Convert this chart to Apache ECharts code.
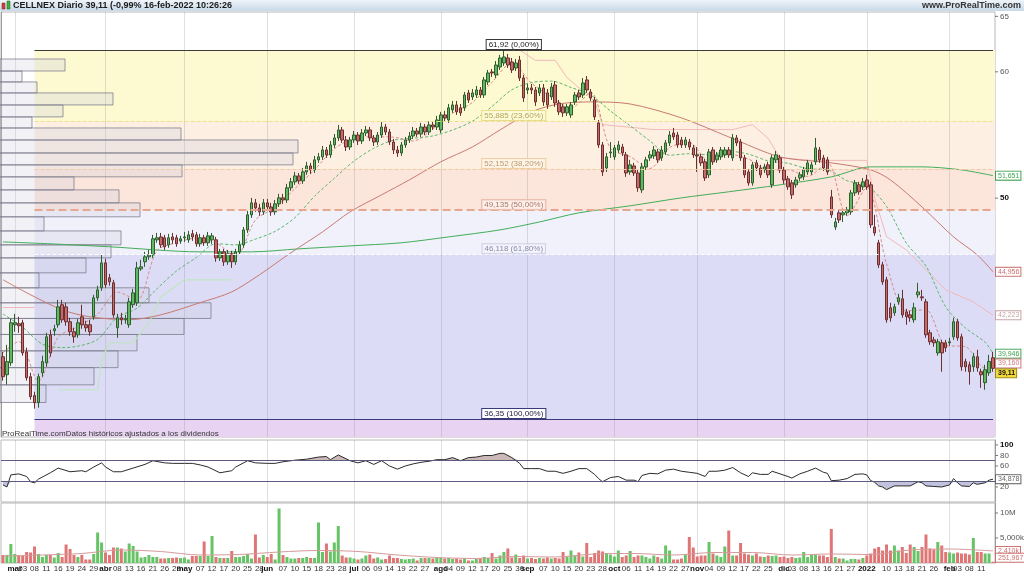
<!DOCTYPE html>
<html><head><meta charset="utf-8">
<script src="https://cdn.jsdelivr.net/npm/echarts@6/dist/echarts.min.js"></script>
<style>html,body{margin:0;padding:0;background:#fff;}#chart{width:1024px;height:576px;}</style>
</head><body><div id="chart"></div>
<script>
// ------------------------- DATA -------------------------
const firstDay = '2021-02-24';
const lastDay = '2022-02-16';
const marketHolidays = ['2021-04-02','2021-04-05','2021-12-24','2021-12-31'];
const monthNames = ['ene','feb','mar','abr','may','jun','jul','ago','sep','oct','nov','dic'];
const tickDates = ['2021-03-01','2021-03-03','2021-03-08','2021-03-11','2021-03-16','2021-03-19','2021-03-24','2021-03-29',
 '2021-04-01','2021-04-08','2021-04-13','2021-04-16','2021-04-21','2021-04-26','2021-04-29',
 '2021-05-03','2021-05-07','2021-05-12','2021-05-17','2021-05-20','2021-05-25','2021-05-28',
 '2021-06-01','2021-06-07','2021-06-10','2021-06-15','2021-06-18','2021-06-23','2021-06-28',
 '2021-07-01','2021-07-06','2021-07-09','2021-07-14','2021-07-19','2021-07-22','2021-07-27',
 '2021-08-02','2021-08-04','2021-08-09','2021-08-12','2021-08-17','2021-08-20','2021-08-25','2021-08-30',
 '2021-09-01','2021-09-07','2021-09-10','2021-09-15','2021-09-20','2021-09-23','2021-09-28',
 '2021-10-01','2021-10-06','2021-10-11','2021-10-14','2021-10-19','2021-10-22','2021-10-27',
 '2021-11-01','2021-11-04','2021-11-09','2021-11-12','2021-11-17','2021-11-22','2021-11-25',
 '2021-12-01','2021-12-03','2021-12-08','2021-12-13','2021-12-16','2021-12-21','2021-12-27',
 '2022-01-03','2022-01-10','2022-01-13','2022-01-18','2022-01-21','2022-01-26',
 '2022-02-01','2022-02-03','2022-02-08','2022-02-11'];

// daily candles: [open, close, low, high]
const ohlc = [
[39.77,38.64,38.42,40.05],[38.75,39.49,38.20,40.46],[39.43,41.77,39.25,42.01],[41.65,41.77,41.23,42.31],[41.71,41.59,41.17,42.13],
[41.77,39.99,39.83,41.95],[40.05,38.58,38.42,40.29],[38.64,37.54,37.38,38.86],[37.60,37.22,36.90,37.81],[37.22,38.64,36.95,38.81],
[38.86,39.49,38.64,39.83],[39.43,40.93,39.20,41.17],[41.05,39.99,39.77,41.35],[41.29,41.41,40.99,41.65],[41.65,42.74,41.47,43.17],
[42.87,41.95,41.77,43.17],[42.74,41.83,41.59,42.99],[41.83,41.23,40.99,42.07],[41.23,40.93,40.58,41.47],[41.05,41.77,40.87,42.01],
[42.13,41.65,41.41,42.87],[41.65,41.47,41.23,41.89],[41.65,41.23,40.99,41.95],[42.13,43.30,41.95,43.49],[43.30,43.80,43.11,44.06],
[43.93,45.54,43.74,46.07],[45.54,44.12,43.93,45.81],[44.57,44.31,44.06,44.82],[44.25,42.25,42.07,44.44],[41.47,42.07,40.87,42.31],
[42.07,41.95,41.65,42.37],[41.95,42.01,41.71,42.25],[41.65,43.05,41.47,43.30],[42.87,43.61,42.68,43.86],[42.99,45.21,42.80,45.61],
[45.15,45.28,45.02,45.74],[45.61,45.94,45.28,46.27],[45.94,46.07,45.74,46.40],[46.07,47.15,45.87,47.42],[47.08,47.22,46.88,47.55],
[47.28,46.74,46.54,47.55],[47.22,46.61,46.40,47.42],[46.74,47.22,46.54,47.49],[47.28,47.08,46.81,47.55],[47.22,46.81,46.61,47.42],
[47.01,47.15,46.81,47.35],[47.22,47.28,46.94,47.62],[47.08,47.42,46.88,47.69],[47.49,47.28,47.01,47.76],[47.42,46.81,46.61,47.62],
[46.81,47.22,46.61,47.49],[47.22,46.88,46.67,47.42],[46.88,47.35,46.67,47.62],[47.08,47.35,46.81,47.55],[47.08,45.87,45.61,47.28],
[45.87,46.27,45.67,46.47],[46.27,45.61,45.34,46.47],[45.61,46.14,45.41,46.40],[46.14,45.61,45.21,46.34],[45.61,46.27,45.41,46.47],
[46.27,46.74,46.07,47.01],[46.74,47.76,46.54,47.96],[47.76,48.81,47.55,49.09],[48.81,49.66,48.59,50.02],[49.66,49.30,49.02,49.94],
[49.30,49.02,48.74,49.59],[49.02,49.66,48.81,49.94],[49.66,49.37,49.09,49.94],[49.37,49.02,48.74,49.66],[49.02,49.59,48.81,49.87],
[49.59,50.02,49.37,50.31],[50.02,49.87,49.59,50.31],[49.87,50.75,49.66,51.04],[50.75,51.19,50.53,51.48],[51.19,51.63,50.97,51.93],
[51.63,51.26,51.04,51.85],[51.26,51.93,51.04,52.23],[51.93,52.38,51.71,52.69],[52.38,52.08,51.78,52.61],[52.08,52.84,51.85,53.14],
[52.84,53.07,52.61,53.37],[53.07,53.60,52.84,53.91],[53.60,53.22,52.99,53.83],[53.22,53.99,52.99,54.30],[53.99,54.54,53.76,54.85],
[54.54,55.17,54.30,55.57],[55.17,54.38,54.15,55.41],[54.38,53.83,53.52,54.69],[53.83,54.38,53.60,54.62],[54.38,54.77,54.15,55.09],
[54.77,54.30,53.99,55.01],[54.30,54.93,54.07,55.25],[54.93,55.17,54.69,55.49],[55.17,54.54,54.30,55.41],[54.54,54.22,53.91,54.77],
[54.22,54.77,53.99,55.01],[54.77,55.41,54.54,55.81],[55.41,55.01,54.77,55.65],[55.01,54.22,53.99,55.25],[54.22,53.60,53.29,54.46],
[53.60,53.37,53.07,53.91],[53.37,53.99,53.14,54.22],[53.99,54.38,53.76,54.62],[54.38,54.69,54.15,55.01],[54.69,55.09,54.46,55.41],
[55.09,54.85,54.62,55.33],[54.85,55.41,54.62,55.73],[55.41,55.01,54.77,55.65],[55.01,55.57,54.77,55.89],[55.57,55.41,55.17,55.89],
[55.41,55.97,55.17,56.30],[55.17,56.38,54.93,56.63],[56.38,56.14,55.89,56.71],[55.97,56.96,55.73,57.28],[56.79,57.20,56.55,57.53],
[57.20,56.63,56.38,57.53],[56.96,56.55,56.30,57.28],[56.96,58.03,56.71,58.28],[58.20,57.61,57.36,58.45],[57.86,58.20,57.61,58.53],
[58.03,58.45,57.78,58.79],[58.45,58.03,57.78,58.70],[58.03,59.30,57.78,59.56],[59.13,59.90,58.87,60.16],[59.99,59.90,59.56,60.25],
[59.73,60.59,59.47,60.94],[60.42,61.21,60.16,61.48],[60.77,61.30,60.51,61.92],[61.21,60.59,60.33,61.57],[60.86,60.16,59.90,61.21],
[60.33,60.77,60.07,61.12],[61.03,59.47,59.21,61.39],[59.47,57.78,57.45,59.73],[58.45,58.62,58.11,58.96],[58.62,58.45,58.11,58.96],
[58.45,57.45,57.12,58.70],[58.20,58.62,57.94,58.96],[58.62,57.45,57.12,58.96],[58.20,57.20,56.87,58.53],[57.86,58.70,57.61,59.04],
[58.87,57.36,57.04,59.21],[57.36,56.63,56.38,57.61],[57.04,56.55,56.22,57.28],[56.55,57.04,56.30,57.28],[56.38,57.20,56.14,57.45],
[57.45,58.03,57.20,58.28],[58.20,57.86,57.61,58.45],[58.03,59.04,57.78,59.47],[59.30,58.45,58.20,59.64],[58.28,57.78,57.53,58.53],
[57.61,56.22,55.97,57.86],[55.73,53.99,53.76,55.97],[53.99,51.93,51.63,54.22],[52.23,53.07,51.93,53.37],[53.37,53.45,52.99,54.22],
[53.07,53.76,52.84,53.99],[53.60,53.99,53.37,54.30],[53.83,53.37,53.14,54.07],[53.22,51.85,51.56,53.45],[51.93,52.46,51.71,52.84],
[52.38,51.85,51.63,52.61],[51.85,50.75,50.46,52.08],[50.60,52.31,50.38,52.61],[52.31,52.84,52.08,53.07],[52.99,53.22,52.76,53.52],
[53.14,53.60,52.91,53.91],[53.45,52.84,52.61,53.68],[52.99,53.60,52.76,53.91],[53.45,54.15,53.22,54.38],[54.15,54.77,53.91,55.09],
[54.93,54.62,54.38,55.33],[54.77,53.99,53.76,55.01],[54.38,53.99,53.76,54.62],[53.99,54.38,53.76,54.62],[54.22,53.83,53.60,54.46],
[53.76,53.22,52.99,53.99],[53.22,53.14,51.93,53.83],[53.07,52.61,52.38,53.29],[52.69,51.48,51.26,52.91],[51.71,53.45,51.48,53.68],
[53.60,52.69,52.46,53.83],[52.84,53.22,52.61,53.45],[53.07,53.60,52.84,53.83],[53.22,53.60,52.99,53.83],[53.60,53.22,52.99,53.83],
[52.99,54.54,52.76,54.85],[54.54,54.15,53.91,54.77],[54.22,52.99,52.76,54.46],[52.99,51.71,51.48,53.22],[51.93,51.11,50.90,52.15],
[51.11,52.46,50.90,52.69],[52.61,52.23,52.00,52.84],[52.23,51.71,51.48,52.46],[52.08,52.31,51.85,52.54],[52.46,51.71,51.48,52.69],
[50.97,52.99,50.75,53.22],[52.84,53.22,52.61,53.52],[52.99,52.08,51.85,53.22],[52.08,51.33,51.04,52.31],[51.41,50.82,50.60,51.63],
[51.11,50.24,49.94,51.33],[50.97,51.33,50.75,51.56],[51.48,51.71,51.26,51.93],[51.56,52.08,51.33,52.31],[51.93,52.61,51.71,52.84],
[51.93,52.46,51.71,52.69],[52.69,53.76,52.46,54.54],[53.60,52.84,52.61,53.83],[52.99,52.23,52.00,53.22],[52.84,51.93,51.71,53.07],
[50.09,48.81,48.59,50.60],[47.96,48.31,47.76,48.59],[48.95,48.45,48.24,49.16],[48.81,48.95,48.31,49.16],[48.95,49.16,48.74,49.37],
[49.02,50.38,48.81,50.60],[50.38,51.11,50.16,51.33],[50.97,50.46,50.24,51.19],[50.82,51.19,50.60,51.48],[51.33,50.82,50.60,51.71],
[50.97,48.11,47.89,51.19],[47.96,47.55,47.35,48.81],[46.88,45.41,45.21,47.08],[45.41,44.31,44.12,45.61],[44.44,41.95,41.77,44.63],
[42.68,42.07,41.83,42.99],[42.37,42.74,42.19,42.93],[43.05,43.30,42.87,43.55],[43.24,42.25,42.07,43.80],[42.43,42.13,41.65,42.62],
[42.25,42.07,41.83,42.50],[41.95,42.68,41.77,42.99],[43.49,43.67,43.30,44.25],[43.36,43.30,43.11,43.80],[43.05,41.05,40.87,43.24],
[41.17,40.64,40.46,41.35],[40.75,40.58,40.35,40.93],[39.99,40.64,39.83,40.81],[40.58,39.99,38.92,40.75],[40.58,40.29,40.05,40.75],
[40.58,40.64,40.41,40.87],[40.93,41.83,40.75,42.07],[41.83,40.87,40.70,42.01],[40.93,39.20,38.97,41.11],[39.49,39.20,38.92,39.66],
[39.31,38.92,38.20,39.49],[39.20,39.77,38.92,39.99],[39.77,39.14,38.92,40.17],[38.92,38.75,38.03,39.09],[38.31,39.03,37.92,39.31],
[38.86,39.50,38.69,39.88],[39.71,39.11,38.92,40.05]];

// daily volume, millions of shares
const volume = [
1.6,1.6,3.8,1.8,1.6,1.4,2.2,2.1,3.3,1.8,
1.2,1.6,1.6,1.1,2.0,1.2,3.7,2.8,1.6,1.2,
1.6,0.7,0.7,1.8,6.1,4.1,2.1,1.6,3.1,3.1,
2.9,2.3,3.9,3.4,2.3,1.1,1.2,1.6,1.2,1.2,
0.9,0.9,1.0,1.0,1.1,1.0,1.1,0.7,1.4,1.4,
1.4,4.3,1.4,5.4,1.2,1.0,1.0,1.0,2.4,1.2,
1.2,1.4,1.8,0.9,5.7,1.1,1.6,1.2,1.8,0.7,
10.9,1.6,1.2,0.9,0.9,1.0,1.0,1.2,1.0,1.0,
8.1,2.2,3.9,2.3,4.1,7.4,1.5,1.1,1.1,0.9,
0.7,0.9,1.5,1.7,0.9,1.1,0.7,0.8,1.5,1.0,
1.0,0.8,0.7,0.8,0.9,0.5,1.0,1.0,1.0,0.9,
1.0,1.0,0.9,1.0,0.8,0.9,0.7,1.0,0.5,0.5,
0.8,0.9,1.2,1.0,2.0,0.9,1.5,2.2,2.9,1.1,
1.7,1.0,1.5,0.9,1.0,0.8,1.0,0.9,1.1,0.9,
1.0,0.9,2.2,1.2,2.5,1.5,2.1,1.3,4.0,1.2,
2.0,2.5,2.3,2.0,1.7,1.3,2.5,1.2,1.5,2.4,
1.2,1.5,1.5,1.2,0.9,1.5,1.2,0.9,3.5,2.5,
0.7,0.7,0.9,1.7,5.2,3.1,1.3,1.5,1.5,4.2,
1.9,1.5,1.2,3.3,6.5,1.5,1.5,4.0,1.9,1.7,
1.5,1.9,1.3,1.2,1.5,1.4,1.5,1.2,1.3,1.0,
1.2,1.0,1.1,2.2,1.2,1.7,1.7,1.5,1.5,1.2,
6.8,1.2,0.9,0.9,0.5,0.8,0.8,0.7,1.0,1.5,
1.9,2.9,3.2,2.5,3.7,2.5,3.5,2.5,3.2,2.0,
3.7,3.2,2.4,3.2,5.7,2.9,2.7,4.2,3.5,2.2,
2.1,1.9,2.1,1.9,1.9,1.7,5.0,2.2,2.2,1.9,
1.9,0.251967];

// overlays: [dayIndex, value]
const sma200 = [[0,46.94],[12,46.81],[27,46.61],[50,46.27],[63,46.27],[75,46.47],[88,46.67],[101,46.88],[113,47.28],[126,47.76],[136,48.31],[146,48.95],[159,49.45],[172,50.02],[184,50.46],[197,50.97],[210,51.56],[220,52.31],[233,52.31],[243,52.08],[251,51.651]];
const sma50 = [[0,44.44],[7,43.49],[15,42.56],[22,42.13],[32,41.95],[40,42.25],[50,43.0],[58,43.67],[65,44.76],[73,46.21],[81,47.62],[88,49.02],[96,50.24],[103,51.33],[111,52.69],[119,53.83],[126,55.17],[134,56.63],[141,57.28],[149,57.45],[159,57.28],[172,56.14],[184,54.62],[197,53.07],[210,52.61],[220,52.08],[225,51.33],[233,49.37],[241,47.28],[247,46.07],[251,44.956]];
const fastAvg = [[0,40.0],[4,40.65],[9,38.39],[14,40.91],[19,41.54],[24,42.29],[29,43.66],[34,43.17],[39,46.33],[44,46.89],[49,47.19],[54,46.88],[59,45.98],[64,48.45],[69,49.33],[74,50.69],[79,52.10],[84,53.68],[89,54.51],[94,54.63],[99,54.60],[104,54.30],[109,55.25],[114,56.53],[119,57.40],[124,59.12],[129,60.77],[134,59.02],[139,57.88],[144,56.96],[149,58.23],[154,53.73],[159,53.09],[164,52.19],[169,53.79],[174,54.16],[179,52.78],[184,53.27],[189,52.90],[194,52.08],[199,52.09],[204,51.59],[209,52.64],[214,48.74],[219,50.79],[224,45.47],[229,42.50],[234,42.55],[239,40.43],[244,40.35],[249,39.12],[251,39.16]];
const slowAvg = [[0,42.3],[5,41.5],[10,40.5],[15,40.3],[19,40.38],[24,40.78],[29,42.10],[34,42.66],[39,43.86],[44,45.01],[49,45.89],[54,46.82],[59,46.74],[64,47.13],[69,47.66],[74,48.61],[79,50.14],[84,51.45],[89,52.75],[94,53.73],[99,54.36],[104,54.51],[109,54.70],[114,55.17],[119,55.87],[124,57.08],[129,58.46],[134,59.08],[139,59.20],[144,58.66],[149,58.02],[154,56.70],[159,55.50],[164,54.31],[169,53.20],[174,53.31],[179,53.23],[184,53.50],[189,53.28],[194,52.76],[199,52.58],[204,52.17],[209,52.10],[214,51.27],[219,50.94],[224,49.41],[229,46.87],[234,45.33],[239,42.74],[244,41.46],[249,40.61],[251,39.946]];
const upperBand = [[0,42.7],[8,42.7],[9,null],[127,61.9],[131,61.9],[135,61.0],[140,61.0],[143,59.5],[150,57.5],[152,55.6],[165,55.2],[185,55.2],[190,55.6],[194,54.5],[197,53.0],[205,52.8],[219,52.8],[221,50.0],[224,47.3],[229,46.4],[234,45.1],[239,43.8],[246,43.05],[251,42.223]];
const lowerBand = [[14,37.92],[24,37.92],[25,39.60],[27,40.58],[33,40.58],[37,41.77],[40,43.36],[46,44.44],[58,44.44]];
const rsi14 = [[0,24],[1,20],[2,43],[4,45],[6,40],[7,30],[8,28],[9,35],[12,47],[14,56],[17,49],[20,51],[21,49],[23,58],[25,66],[26,58],[28,49],[30,49],[33,56],[36,63],[38,70],[41,66],[43,65],[46,65],[48,65],[50,62],[52,58],[55,47],[58,51],[59,58],[62,70],[64,66],[67,65],[69,65],[71,68],[74,71],[77,73],[80,77],[82,78],[83,72],[85,81],[88,70],[90,66],[92,70],[94,63],[96,70],[98,60],[100,54],[102,60],[104,64],[106,67],[108,69],[110,72],[112,72],[114,76],[116,70],[118,76],[120,77],[122,80],[124,80],[126,84],[127,84],[129,76],[131,65],[132,55],[134,55],[136,55],[138,50],[140,50],[142,46],[144,50],[146,55],[148,55],[150,44],[151,36],[152,30],[154,38],[156,40],[158,33],[160,33],[161,30],[162,42],[164,46],[166,45],[168,52],[170,54],[172,50],[174,48],[176,46],[178,40],[179,50],[181,50],[183,52],[185,57],[187,47],[189,40],[190,47],[192,44],[194,44],[195,50],[197,45],[199,40],[200,37],[202,45],[204,50],[206,56],[208,48],[209,46],[210,32],[212,33],[214,36],[216,44],[218,45],[219,43],[220,32],[221,29],[222,22],[223,20],[224,15],[226,22],[228,22],[230,22],[232,30],[233,28],[234,22],[236,21],[238,20],[240,24],[241,36],[242,28],[243,22],[245,21],[246,28],[247,25],[249,28],[250,33],[251,34.878]];
const volumeAvg = [[0,1.4],[10,1.6],[20,1.9],[30,2.6],[40,2.3],[50,1.6],[60,1.7],[70,2.2],[80,2.5],[90,2.3],[100,1.6],[110,1.1],[120,0.9],[130,1.3],[140,1.2],[150,1.8],[160,1.9],[170,1.6],[180,2.1],[190,2.1],[200,1.6],[210,1.8],[220,1.7],[230,2.6],[240,2.8],[251,2.41]];

// volume profile by price (edges, bottom to top) and relative volume per bin
const profileEdges = [37.23,38.19,39.15,40.11,41.07,42.03,42.99,43.93,44.89,45.87,46.74,47.69,48.67,49.66,50.60,51.56,52.46,53.37,54.38,55.33,56.22,57.20,58.20,59.13,60.07,61.12];
const profileVolume = [45,93,117,136,183,210,148,38,85,110,120,43,139,118,73,181,292,297,180,31,62,112,36,21,64];

// Fibonacci retracement
const fibLevels = [61.92,55.885,52.152,49.135,46.118,36.35];
const fibText = ['61,92 (0,00%)','55,885 (23,60%)','52,152 (38,20%)','49,135 (50,00%)','46,118 (61,80%)','36,35 (100,00%)'];
const fibAnchorIndex = 8;

const lastClose = 39.11;
const headerText = 'CELLNEX Diario 39,11 (-0,99% 16-feb-2022 10:26:26';

// ------------------------- BUILD -------------------------
function buildDays(){
  const out=[]; const a=firstDay.split('-').map(Number), b=lastDay.split('-').map(Number);
  let t=Date.UTC(a[0],a[1]-1,a[2]); const end=Date.UTC(b[0],b[1]-1,b[2]);
  while(t<=end){const d=new Date(t);const wd=d.getUTCDay();const s=d.toISOString().slice(0,10);
    if(wd!==0&&wd!==6&&marketHolidays.indexOf(s)<0) out.push(s); t+=86400000;}
  return out;
}
const days = buildDays();
const lastIdx = days.length-1;
const monthStarts = days.filter((d,i)=> i>0 && d.slice(5,7)!==days[i-1].slice(5,7));
const monthSet = new Set(monthStarts);
const firstTick = tickDates[0];
const tickSet = new Set(tickDates.slice(1));   // first tick drawn separately (it overlaps the next one)
const pairs = arr => arr.map(p => [days[p[0]], p[1]]);
const tickText = val => { if(monthSet.has(val)){ const m=+val.slice(5,7); return m===1? val.slice(0,4) : monthNames[m-1]; } return val.slice(8); };

const priceMin = 35.42, priceMax = 65.41;
const FONT = '"Liberation Sans", Arial, sans-serif';

const zoneColors = ['#fdf9d1','#fdf0e2','#fce6dc','#f0f1fb','#dcdcf6'];
const zones = [];
for (let k=0;k<fibLevels.length-1;k++){
  zones.push([{xAxis: days[fibAnchorIndex], yAxis: fibLevels[k], itemStyle:{color: zoneColors[k]}}, {yAxis: fibLevels[k+1]}]);
}
zones.push([{xAxis: days[fibAnchorIndex], yAxis: fibLevels[5], itemStyle:{color:'#e8d3f2'}}, {yAxis: priceMin}]);

const fibStyles = [
  {c:'#3a3a3a', t:'solid', w:1, b:'#3a3a3a', tc:'#222', bg:'#ffffff'},
  {c:'#efe08c', t:'dashed', w:1, b:'#e9dc8a', tc:'#b3a25a', bg:'rgba(255,253,220,0.85)'},
  {c:'#f2c9a0', t:'dashed', w:1, b:'#efcfa8', tc:'#b9976f', bg:'rgba(255,246,232,0.85)'},
  {c:'#e6a690', t:'dashed', w:2, b:'#e4b4a4', tc:'#a57a6c', bg:'rgba(255,240,235,0.85)'},
  {c:'#ffffff', t:'dashed', w:1, b:'#cfd0e2', tc:'#8a8aa2', bg:'rgba(245,245,255,0.85)'},
  {c:'#3a3a78', t:'solid', w:1, b:'#3a3a78', tc:'#222244', bg:'#ffffff'}
];
const fibLines = fibLevels.map((L,k)=>[
  {xAxis: days[fibAnchorIndex], yAxis: L,
   lineStyle:{color: fibStyles[k].c, type: fibStyles[k].t, width: fibStyles[k].w},
   label:{show:true, position:'insideMiddleTop', distance:1, formatter: fibText[k], fontSize:8, fontFamily:FONT,
     color: fibStyles[k].tc, backgroundColor: fibStyles[k].bg, borderColor: fibStyles[k].b, borderWidth:1, padding:[1,2,0,2]}},
  {xAxis: days[lastIdx], yAxis: L}
]);

const monthLines = monthStarts.map(d => ({xAxis: d}));
const monthLineCfg = {silent:true, symbol:'none', z:1.5, label:{show:false},
  lineStyle:{color:'rgba(140,140,150,0.28)', width:1, type:'solid'}, data: monthLines, animation:false};

const candleColors = ohlc.map(r => r[1] >= r[0] ? '#66c466' : '#e07575');
const volData = volume.map((v,i)=>({value:[days[i], v], itemStyle:{color: candleColors[i]}}));

const rsiHi = rsi14.map(p => [days[p[0]], Math.max(p[1],70)]);
const rsiLo = rsi14.map(p => [days[p[0]], Math.min(p[1],30)]);

const chart = echarts.init(document.getElementById('chart'), null, {width:1024, height:576});

const gridBase = {left:1, right:29, show:true, borderColor:'#b8b8b8', borderWidth:1, backgroundColor:'transparent'};
const catAxis = (gi, showLabel) => ({
  type:'category', gridIndex: gi, data: days, boundaryGap: true,
  axisLine:{show:false}, axisTick:{show:false}, splitLine:{show:false},
  axisLabel: showLabel ? {
    show:true, interval:(idx, val)=> tickSet.has(val), margin:2, fontSize:8, color:'#333', fontFamily:FONT,
    hideOverlap:false,
    formatter:(val)=>{ if(!tickSet.has(val)) return ''; const t=tickText(val); return monthSet.has(val) ? '{b|'+t+'}' : t; },
    rich:{b:{fontWeight:'bold', fontSize:8, color:'#111', fontFamily:FONT}}
  } : {show:false}
});

const option = {
  animation:false,
  backgroundColor:'#ffffff',
  grid:[
    Object.assign({top:12, height:425}, gridBase),
    Object.assign({top:440, height:62}, gridBase),
    Object.assign({top:503, height:60}, gridBase)
  ],
  xAxis:[ catAxis(0,false), catAxis(1,false), catAxis(2,true),
    {type:'value', gridIndex:0, min:0, max:994, show:false} ],
  yAxis:[
    {type:'log', logBase:10, gridIndex:0, min:priceMin, max:priceMax, position:'right',
      axisLine:{show:true, lineStyle:{color:'#9a9a9a'}}, axisTick:{show:false}, axisLabel:{show:false}, splitLine:{show:false}},
    {type:'value', gridIndex:1, min:-8.6, max:109.5, position:'right',
      axisLine:{show:true, lineStyle:{color:'#9a9a9a'}}, axisTick:{show:false}, axisLabel:{show:false}, splitLine:{show:false}},
    {type:'value', gridIndex:2, min:0, max:12, position:'right',
      axisLine:{show:true, lineStyle:{color:'#9a9a9a'}}, axisTick:{show:false}, axisLabel:{show:false}, splitLine:{show:false}}
  ],
  series:[
    {type:'line', xAxisIndex:0, yAxisIndex:0, data:[], clip:false, silent:true, markLine: monthLineCfg},
    {type:'custom', xAxisIndex:3, yAxisIndex:0, z:2, silent:true,
      data: profileVolume.map((v,k)=>[0, profileEdges[k], v, profileEdges[k+1]]),
      encode:{x:[0,2], y:[1,3]},
      renderItem:(params, api)=>{
        const tl = api.coord([0, api.value(3)]);
        const br = api.coord([api.value(2), api.value(1)]);
        return {type:'rect', shape:{x:tl[0]-1, y:tl[1], width:br[0]-tl[0]+1, height:br[1]-tl[1]},
          style:{fill:'rgba(205,205,222,0.28)', stroke:'rgba(120,120,138,0.75)', lineWidth:1}};
      }},
    {type:'line', name:'upper', xAxisIndex:0, yAxisIndex:0, z:3, data: pairs(upperBand), symbol:'none', connectNulls:false,
      lineStyle:{color:'#f1b9b9', width:1}},
    {type:'line', name:'lower', xAxisIndex:0, yAxisIndex:0, z:3, data: pairs(lowerBand), symbol:'none',
      lineStyle:{color:'#bfe6bf', width:1.2}},
    {type:'line', name:'sma200', xAxisIndex:0, yAxisIndex:0, z:3, data: pairs(sma200), symbol:'none', smooth:0.3,
      lineStyle:{color:'#43ad5a', width:1}},
    {type:'line', name:'sma50', xAxisIndex:0, yAxisIndex:0, z:3, data: pairs(sma50), symbol:'none', smooth:0.3,
      lineStyle:{color:'#c97a72', width:1}},
    {type:'line', name:'slow', xAxisIndex:0, yAxisIndex:0, z:3, data: pairs(slowAvg), symbol:'none', smooth:0.3,
      lineStyle:{color:'#59b86a', width:1, type:[3,2]}},
    {type:'line', name:'fast', xAxisIndex:0, yAxisIndex:0, z:3, data: pairs(fastAvg), symbol:'none', smooth:0.3,
      lineStyle:{color:'#d98a8a', width:1, type:[3,2]}},
    {type:'candlestick', xAxisIndex:0, yAxisIndex:0, z:4, data: ohlc, barWidth:3,
      itemStyle:{color:'#62b862', color0:'#c46a6a', borderColor:'#2e5d2e', borderColor0:'#6b2f2f', borderWidth:1},
      markArea:{silent:true, z:1, data: zones}},
    {type:'line', xAxisIndex:0, yAxisIndex:0, data:[], clip:false, silent:true, z:6,
      markLine:{silent:true, symbol:'none', z:6, data: fibLines}},
    {type:'line', xAxisIndex:1, yAxisIndex:1, data:[], clip:false, silent:true, markLine: monthLineCfg},
    {type:'line', xAxisIndex:1, yAxisIndex:1, data: rsiHi, symbol:'none', lineStyle:{width:0, opacity:0},
      areaStyle:{origin:70, color:'rgba(135,85,85,0.6)'}, z:2},
    {type:'line', xAxisIndex:1, yAxisIndex:1, data: rsiLo, symbol:'none', lineStyle:{width:0, opacity:0},
      areaStyle:{origin:30, color:'rgba(95,95,170,0.55)'}, z:2},
    {type:'line', xAxisIndex:1, yAxisIndex:1, data: pairs(rsi14), symbol:'none', z:3,
      lineStyle:{color:'#2b2b2b', width:1},
      markLine:{silent:true, symbol:'none', label:{show:false}, lineStyle:{color:'#5c5c80', width:1, type:'solid'},
        data:[{yAxis:70},{yAxis:30}]}},
    {type:'line', xAxisIndex:2, yAxisIndex:2, data:[], clip:false, silent:true, markLine: monthLineCfg},
    {type:'bar', xAxisIndex:2, yAxisIndex:2, data: volData, barWidth:3, z:2},
    {type:'line', xAxisIndex:2, yAxisIndex:2, data: pairs(volumeAvg), symbol:'none', smooth:0.3, z:3,
      lineStyle:{color:'#d69a9a', width:1}}
  ]
};
chart.setOption(option);

// ---- labels placed through the axes' scales ----
const fmt = (v,d) => v.toFixed(d).replace('.', ',');
const G = [];
G.push({type:'rect', z:100, shape:{x:0,y:0,width:1024,height:11}, style:{fill:new echarts.graphic.LinearGradient(0,0,0,1,[{offset:0,color:'#eef4f9'},{offset:1,color:'#c8d9e8'}])}, silent:true});
G.push({type:'rect', z:101, shape:{x:2,y:3,width:3,height:6}, style:{fill:'#d04040', stroke:'#802020', lineWidth:0.5}});
G.push({type:'rect', z:101, shape:{x:7,y:1,width:3,height:8}, style:{fill:'#40b040', stroke:'#206020', lineWidth:0.5}});
G.push({type:'text', z:101, x:13, y:6, style:{text: headerText, font:'bold 9px '+FONT, fill:'#1a1a1a', verticalAlign:'middle'}});
G.push({type:'text', z:101, x:1021, y:6, style:{text:'www.ProRealTime.com', font:'bold 9px '+FONT, fill:'#333', align:'right', verticalAlign:'middle'}});
G.push({type:'text', z:101, x:2, y:434, style:{text:'ProRealTime.comDatos históricos ajustados a los dividendos', font:'8px '+FONT, fill:'#333', verticalAlign:'middle'}});
// first x tick label (overlaps its neighbour in the original, so it is placed on its own)
const firstX = chart.convertToPixel({xAxisIndex:2}, firstTick);
G.push({type:'text', z:101, x:firstX, y:565, style:{text: tickText(firstTick), font:(monthSet.has(firstTick)?'bold ':'')+'8px '+FONT, fill:'#111', align:'center', verticalAlign:'top'}});

const axisLabels = [
  {axis:0, v:65, t:'65'}, {axis:0, v:60, t:'60'}, {axis:0, v:50, t:'50', bold:true},
  {axis:1, v:100, t:'100', bold:true}, {axis:1, v:80, t:'80'}, {axis:1, v:60, t:'60'}, {axis:1, v:40, t:'40'}, {axis:1, v:20, t:'20'},
  {axis:2, v:10, t:'10M'}, {axis:2, v:5, t:'5,000k'}
];
axisLabels.forEach(a=>{
  const y = chart.convertToPixel({yAxisIndex:a.axis}, a.v);
  G.push({type:'line', z:100, shape:{x1:995,y1:y,x2:998,y2:y}, style:{stroke:'#777', lineWidth:1}});
  G.push({type:'text', z:100, x:1000, y:y, style:{text:a.t, font:(a.bold?'bold ':'')+'8px '+FONT, fill:a.bold?'#111':'#555', verticalAlign:'middle'}});
});
const valueBoxes = [
  {axis:0, v:sma200[sma200.length-1][1], t:fmt(sma200[sma200.length-1][1],3), c:'#3fa24f'},
  {axis:0, v:sma50[sma50.length-1][1], t:fmt(sma50[sma50.length-1][1],3), c:'#cc6f6f'},
  {axis:0, v:upperBand[upperBand.length-1][1], t:fmt(upperBand[upperBand.length-1][1],3), c:'#c8a2a2'},
  {axis:0, v:slowAvg[slowAvg.length-1][1], t:fmt(slowAvg[slowAvg.length-1][1],3), c:'#3fa24f'},
  {axis:0, v:fastAvg[fastAvg.length-1][1], t:fmt(fastAvg[fastAvg.length-1][1],3), c:'#d07c7c', dy:-4},
  {axis:0, v:lastClose, t:fmt(lastClose,2), c:'#9a8a20', fill:'#f4d93c', tc:'#111', dy:5, bold:true},
  {axis:1, v:rsi14[rsi14.length-1][1], t:fmt(rsi14[rsi14.length-1][1],3), c:'#666'},
  {axis:2, v:volumeAvg[volumeAvg.length-1][1], t:fmt(volumeAvg[volumeAvg.length-1][1],3)+'k', c:'#cc6f6f'},
  {axis:2, v:volume[volume.length-1], t:fmt(volume[volume.length-1]*1000,3), c:'#cc6f6f', dy:-4}
];
valueBoxes.forEach(b=>{
  const y = chart.convertToPixel({yAxisIndex:b.axis}, b.v) + (b.dy||0);
  G.push({type:'text', x:996, y:y, z:110, style:{text:b.t, font:(b.bold?'bold ':'')+'7px '+FONT, fill:b.tc||b.c,
    backgroundColor:b.fill||'#ffffff', borderColor:b.c, borderWidth:1, padding:[1,1,0,2], verticalAlign:'middle'}});
});
chart.setOption({graphic: G});
</script></body></html>
